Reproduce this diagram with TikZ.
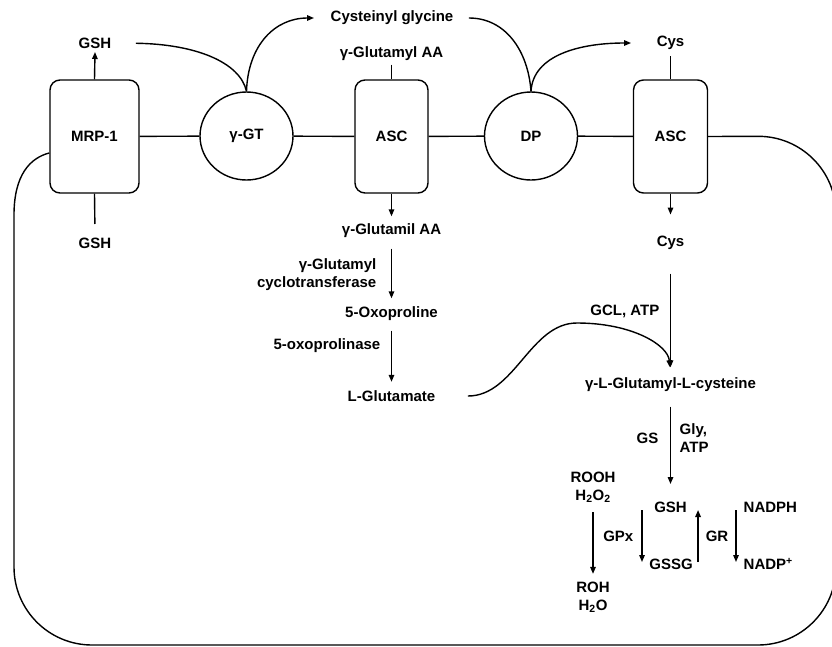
\documentclass[tikz,border=0pt]{standalone}
\usepackage{fontspec}
\setmainfont{Liberation Sans}
\usetikzlibrary{shapes.geometric,arrows.meta}
\tikzset{
  lbl/.style={font=\fontsize{15}{18}\selectfont\bfseries, inner sep=3pt},
  carrier/.style={lbl, draw, rounded corners=10pt, minimum width=74pt, minimum height=113pt},
  enzyme/.style={lbl, draw, ellipse, minimum width=93pt, minimum height=88pt, inner sep=0pt},
  flow/.style={-{Triangle[length=7pt,width=5.5pt]}}
}
\begin{document}
\begin{tikzpicture}[x=1pt, y=-1pt, line width=1.4pt]
\useasboundingbox (0,0) rectangle (832,646);
\node[carrier, minimum width=89pt] (mrp) at (94.5,136.5) {MRP-1};
\node[enzyme] (gt) at (246.5,136) {γ-GT};
\node[carrier, minimum width=73pt] (asca) at (391.5,136.5) {ASC};
\node[enzyme] (dp) at (531,136) {DP};
\node[carrier] (ascb) at (670.5,136.5) {ASC};
\node[lbl] (gshout) at (95,43) {GSH};
\node[lbl] (gshin) at (95,243) {GSH};
\node[lbl] (cysgly) at (392,18) {Cysteinyl glycine};
\node[lbl] (gaa) at (391.5,54) {γ-Glutamyl AA};
\node[lbl] (cysout) at (670.5,43) {Cys};
\node[lbl] (gaain) at (391.5,231) {γ-Glutamil AA};
\node[lbl] (cysin) at (670.5,243) {Cys};
\node[lbl, align=right, anchor=east] (gcyc) at (380,275) {γ-Glutamyl\\cyclotransferase};
\node[lbl] (oxo) at (391.5,314) {5-Oxoproline};
\node[lbl, anchor=east] (oxoase) at (384,346) {5-oxoprolinase};
\node[lbl] (glu) at (391.5,396) {L-Glutamate};
\node[lbl, anchor=east] (gcl) at (663,311) {GCL, ATP};
\node[lbl] (glc) at (670.5,385) {γ-L-Glutamyl-L-cysteine};
\node[lbl, anchor=east] (gs) at (662,438) {GS};
\node[lbl, anchor=west, align=left] (gly) at (676,438) {Gly,\\ATP};
\node[lbl, align=center] (rooh) at (593,487) {ROOH\\H\textsubscript{2}O\textsubscript{2}};
\node[lbl, align=center] (roh) at (593,597) {ROH\\H\textsubscript{2}O};
\node[lbl] (gsh) at (670.5,507) {GSH};
\node[lbl] (gssg) at (671,564) {GSSG};
\node[lbl, anchor=east] (gpx) at (637,536) {GPx};
\node[lbl] (gr) at (717,536) {GR};
\node[lbl, anchor=west] (nadph) at (740,507) {NADPH};
\node[lbl, anchor=west] (nadp) at (740,564) {NADP\textsuperscript{+}};
\draw (mrp) -- (gt) -- (asca) -- (dp) -- (ascb);
\draw[flow] (mrp.north) -- (gshout.south);
\draw[shorten >=10pt] (mrp.south) -- (gshin.north);
\draw (gaa.south) -- (asca.north);
\draw[shorten <=3pt] (cysout.south) -- (ascb.north);
\draw[shorten <=21pt] (gshout.east) .. controls (195,44) and (240,62) .. (gt.north);
\draw[flow, shorten >=13pt] (gt.north) .. controls (248,45) and (275,18) .. (cysgly.west);
\draw[shorten <=12pt] (cysgly.east) .. controls (505,18) and (528,50) .. (dp.north);
\draw[flow, shorten >=22pt] (dp.north) .. controls (533,55) and (580,43) .. (cysout.west);
\draw[flow, shorten >=4pt] (asca.south) -- (gaain.north);
\draw[flow, shorten >=18pt] (ascb.south) -- (cysin.north);
\draw[flow, shorten <=7pt, shorten >=5pt] (gaain.south) -- (oxo.north);
\draw[flow, shorten <=6pt, shorten >=5pt] (oxo.south) -- (glu.north);
\draw[flow, shorten <=20pt, shorten >=7pt] (cysin.south) -- (glc.north);
\draw[flow, shorten <=29pt, shorten >=7pt] (glu.east) .. controls (515,396) and (530,323) .. (577,323)
  .. controls (632,323) and (668,345) .. (glc.north);
\draw[flow, shorten <=11pt, shorten >=14pt] (glc.south) -- (gsh.north);
\draw[flow, shorten <=6pt, shorten >=4pt] (rooh.south) -- (roh.north);
\draw[flow, shorten <=3pt, shorten >=2pt] ([xshift=5pt]gpx.east |- gsh) -- ([xshift=5pt]gpx.east |- gssg);
\draw[flow, shorten <=2pt, shorten >=3pt] ([xshift=-4pt]gr.west |- gssg) -- ([xshift=-4pt]gr.west |- gsh);
\draw[flow, shorten <=3pt, shorten >=2pt] ([xshift=-4pt]nadph.west) -- ([xshift=-4pt]nadp.west);
\draw (mrp.200) .. controls (30,158) and (14,175) .. (14,215) [rounded corners=78pt] -- (14,645) -- (836,645)
  -- (836,136) -- (ascb.east);
\end{tikzpicture}
\end{document}
